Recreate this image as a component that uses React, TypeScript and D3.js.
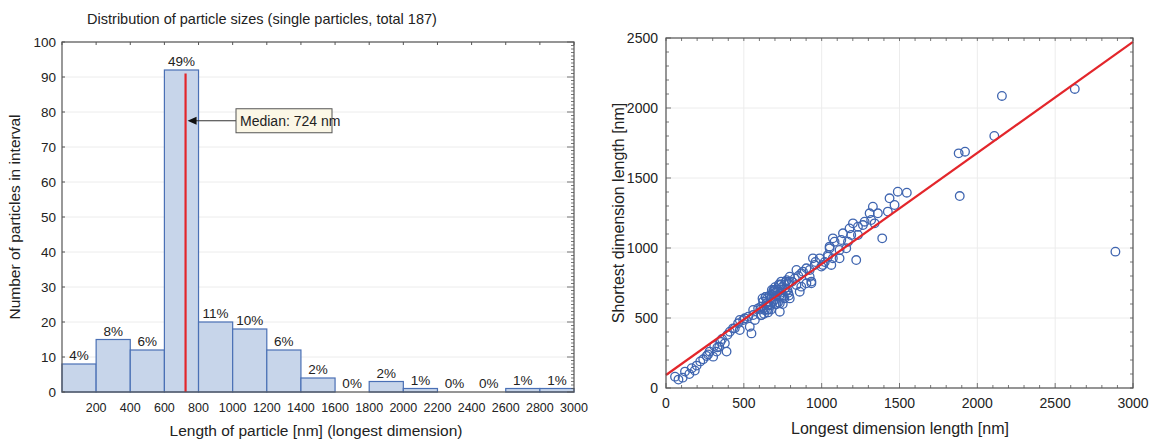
import React from "react";
import * as d3 from "d3";

// histogram: counts per 200 nm bin (longest dimension)
const binStarts = [0, 200, 400, 600, 800, 1000, 1200, 1400, 1600, 1800, 2000, 2200, 2400, 2600, 2800];
const binCounts = [8, 15, 12, 92, 20, 18, 12, 4, 0, 3, 1, 0, 0, 1, 1];
const totalParticles = 187;
const medianLength = 724;
const histXTicks = [200, 400, 600, 800, 1000, 1200, 1400, 1600, 1800, 2000, 2200, 2400, 2600, 2800, 3000];
const histYTicks = [0, 10, 20, 30, 40, 50, 60, 70, 80, 90, 100];

// scatter: longest vs shortest dimension (nm)
const longestLen = [
  58, 107, 80, 122, 150, 165, 197, 185,
  239, 261, 220, 303, 280, 325, 342, 310, 378, 360, 389, 395, 350, 270, 330,
  410, 442, 474, 474, 506, 538, 549, 560, 528, 496, 571, 592, 463, 431, 560,
  613, 624, 635, 645, 656, 678, 688, 720, 731, 731, 731, 752, 763, 784, 795, 795,
  640, 660, 700, 710, 690, 740, 760, 770, 790, 750, 700, 680, 650, 620, 605, 630,
  670, 720, 730, 780, 790, 760, 740, 700, 680, 650, 610, 665, 715, 745, 775, 705,
  655, 725, 770, 610, 640, 690, 755, 785, 735, 695, 675, 625,
  838, 869, 838, 869, 859, 827, 880, 902, 923, 934, 902, 934, 923, 955, 944, 987, 998, 810, 850, 960,
  1008, 1040, 1051, 1083, 1072, 1040, 1062, 1051, 1072, 1115, 1126, 1137, 1158, 1169, 1179, 1190, 1115, 1020,
  1201, 1233, 1265, 1233, 1222, 1276, 1308, 1340, 1318, 1361, 1329, 1389,
  1425, 1468, 1436, 1489, 1547,
  1880, 1921, 1887, 2109, 2158, 2626, 2887,
];
const shortestLen = [
  81, 74, 60, 117, 100, 141, 160, 125,
  205, 229, 190, 224, 260, 260, 295, 300, 319, 350, 260, 380, 330, 240, 290,
  402, 426, 414, 486, 498, 438, 390, 521, 509, 486, 486, 569, 462, 426, 557,
  521, 617, 557, 605, 593, 664, 617, 688, 736, 605, 545, 664, 712, 748, 795, 640,
  650, 560, 700, 600, 690, 740, 640, 760, 660, 600, 720, 700, 560, 640, 560, 530,
  590, 610, 660, 700, 760, 740, 760, 680, 640, 640, 580, 660, 700, 720, 770, 600,
  540, 740, 690, 520, 650, 700, 650, 680, 680, 630, 560, 570,
  843, 819, 736, 724, 688, 783, 831, 855, 795, 748, 748, 760, 843, 879, 926, 926, 867, 760, 800, 900,
  879, 950, 1010, 1045, 926, 938, 879, 998, 1069, 986, 1057, 1105, 998, 1045, 1140, 1093, 926, 900,
  1176, 1152, 1164, 1093, 914, 1188, 1248, 1176, 1200, 1248, 1295, 1069,
  1260, 1307, 1355, 1402, 1395,
  1676, 1688, 1371, 1800, 2086, 2136, 974,
];
const fitIntercept = 93;
const fitSlope = 0.793;
const scatterXTicks = [0, 500, 1000, 1500, 2000, 2500, 3000];
const scatterYTicks = [0, 500, 1000, 1500, 2000, 2500];

const FONT = "'Liberation Sans', Arial, sans-serif";
const TXT = "#222";

function Histogram() {
  const x = d3.scaleLinear().domain([0, 3000]).range([62, 574]);
  const y = d3.scaleLinear().domain([0, 100]).range([392, 42]);
  const minor = d3.range(0, 101, 1);
  const topTicks = d3.range(0, 3001, 200);
  const medY = y(77.5);
  return (
    <g fontFamily={FONT} fill={TXT}>
      <text x={262} y={24} fontSize={14.5} textAnchor="middle">
        Distribution of particle sizes (single particles, total {totalParticles})
      </text>
      {histYTicks.map(t => (
        <line key={"g" + t} x1={x(0)} x2={x(3000)} y1={y(t)} y2={y(t)} stroke="#ececec" />
      ))}
      {binStarts.map((b, i) => (
        <rect key={"b" + b} x={x(b)} y={y(binCounts[i])} width={x(b + 200) - x(b)}
          height={y(0) - y(binCounts[i])} fill="#c7d5ea" stroke="#4a70b5" strokeWidth={1.2} />
      ))}
      {binStarts.map((b, i) => (
        <text key={"p" + b} x={x(b + 100)} y={y(binCounts[i]) - 4} fontSize={13.5} textAnchor="middle">
          {Math.round((binCounts[i] / totalParticles) * 100)}%
        </text>
      ))}
      <line x1={x(medianLength)} x2={x(medianLength)} y1={y(0)} y2={y(91)} stroke="#e3262b" strokeWidth={2.2} />
      {/* frame */}
      <rect x={x(0)} y={y(100)} width={x(3000) - x(0)} height={y(0) - y(100)} fill="none" stroke="#555" strokeWidth={1.2} />
      {minor.map(t => (
        <line key={"m" + t} x1={x(3000)} x2={x(3000) - (t % 10 === 0 ? 7 : 3)} y1={y(t)} y2={y(t)} stroke="#555" strokeWidth={0.8} />
      ))}
      {topTicks.map(t => (
        <line key={"tt" + t} x1={x(t)} x2={x(t)} y1={y(100)} y2={y(100) + 3} stroke="#555" />
      ))}
      {histYTicks.map(t => (
        <g key={"yl" + t}>
          <line x1={x(0)} x2={x(0) + 3} y1={y(t)} y2={y(t)} stroke="#555" />
          <text x={56} y={y(t) + 5} fontSize={13.5} textAnchor="end">{t}</text>
        </g>
      ))}
      {histXTicks.map(t => (
        <text key={"xl" + t} x={x(t)} y={412} fontSize={12.5} textAnchor="middle">{t}</text>
      ))}
      <text x={316} y={436} fontSize={15.5} textAnchor="middle">Length of particle [nm] (longest dimension)</text>
      <text transform={`translate(20,217) rotate(-90)`} fontSize={15.5} textAnchor="middle">Number of particles in interval</text>
      {/* median annotation */}
      <line x1={236} x2={x(medianLength) + 9} y1={medY} y2={medY} stroke="#333" strokeWidth={1.2} />
      <path d={`M${x(medianLength) + 2},${medY} L${x(medianLength) + 11},${medY - 4} L${x(medianLength) + 11},${medY + 4} Z`} fill="#111" />
      <rect x={236} y={medY - 12} width={96} height={24} fill="#fbf7e6" stroke="#555" />
      <text x={240} y={medY + 5} fontSize={14}>Median: {medianLength} nm</text>
    </g>
  );
}

function Scatter() {
  const x = d3.scaleLinear().domain([0, 3000]).range([666, 1133]);
  const y = d3.scaleLinear().domain([0, 2500]).range([388, 38]);
  const xMinor = d3.range(0, 3001, 100);
  const yMinor = d3.range(0, 2501, 100);
  const fit = d3.line<number>().x(d => x(d)).y(d => y(fitIntercept + fitSlope * d));
  return (
    <g fontFamily={FONT} fill={TXT}>
      {scatterXTicks.map(t => (
        <line key={"gx" + t} x1={x(t)} x2={x(t)} y1={y(0)} y2={y(2500)} stroke="#ececec" />
      ))}
      {scatterYTicks.map(t => (
        <line key={"gy" + t} x1={x(0)} x2={x(3000)} y1={y(t)} y2={y(t)} stroke="#ececec" />
      ))}
      {xMinor.map(t => (
        <g key={"xm" + t} stroke="#555" strokeWidth={0.8}>
          <line x1={x(t)} x2={x(t)} y1={y(0)} y2={y(0) - (t % 500 === 0 ? 5 : 3)} />
          <line x1={x(t)} x2={x(t)} y1={y(2500)} y2={y(2500) + 3} />
        </g>
      ))}
      {yMinor.map(t => (
        <g key={"ym" + t} stroke="#555" strokeWidth={0.8}>
          <line x1={x(0)} x2={x(0) + (t % 500 === 0 ? 5 : 3)} y1={y(t)} y2={y(t)} />
          <line x1={x(3000)} x2={x(3000) - 3} y1={y(t)} y2={y(t)} />
        </g>
      ))}
      {longestLen.map((l, i) => (
        <circle key={"c" + i} cx={x(l)} cy={y(shortestLen[i])} r={4.3} fill="none" stroke="#3f65b0" strokeWidth={1.3} />
      ))}
      <path d={fit([0, 3000]) ?? ""} stroke="#e3262b" strokeWidth={2.2} fill="none" />
      <rect x={x(0)} y={y(2500)} width={x(3000) - x(0)} height={y(0) - y(2500)} fill="none" stroke="#555" strokeWidth={1.2} />
      {scatterXTicks.map(t => (
        <text key={"xl" + t} x={x(t)} y={408} fontSize={14} textAnchor="middle">{t}</text>
      ))}
      {scatterYTicks.map(t => (
        <text key={"yl" + t} x={658} y={y(t) + 5} fontSize={14} textAnchor="end">{t}</text>
      ))}
      <text x={900} y={434} fontSize={16} textAnchor="middle">Longest dimension length [nm]</text>
      <text transform={`translate(624,213) rotate(-90)`} fontSize={16} textAnchor="middle">Shortest dimension length [nm]</text>
    </g>
  );
}

export default function App() {
  return (
    <svg width={1158} height={441} style={{ position: "absolute", left: 0, top: 0, background: "#fff" }}>
      <Histogram />
      <Scatter />
    </svg>
  );
}
